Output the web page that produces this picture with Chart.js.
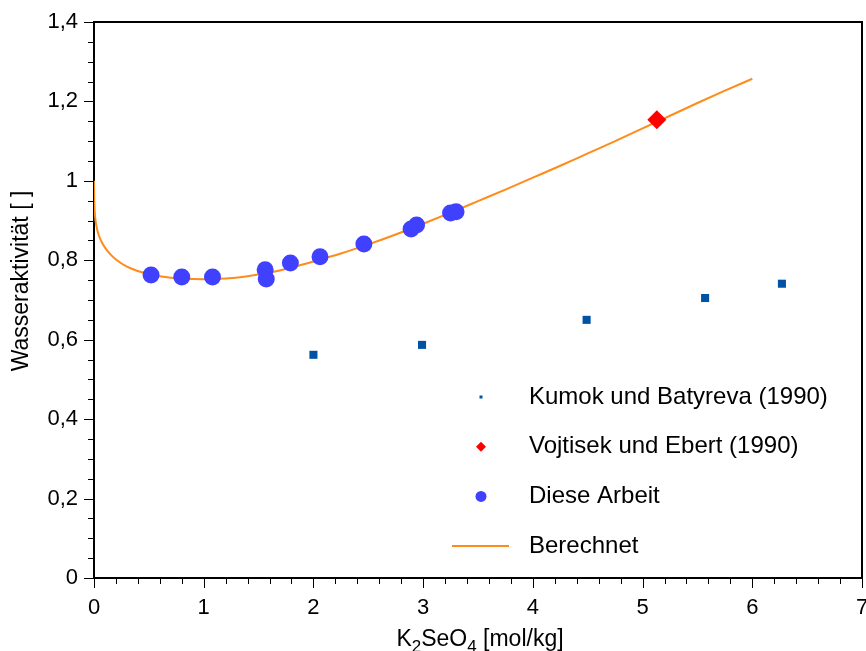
<!DOCTYPE html>
<html>
<head>
<meta charset="utf-8">
<script src="https://cdn.jsdelivr.net/npm/chart.js@4"></script>
<style>
  html, body { margin: 0; padding: 0; background: #fff; }
  #wrap { width: 866px; height: 651px; }
</style>
</head>
<body>
<div id="wrap"><canvas id="c" width="866" height="651"></canvas></div>
<script>
// Kumok und Batyreva (1990)
const kumokX = [2.00, 2.99, 4.49, 5.57, 6.27];
const kumokY = [0.562, 0.587, 0.650, 0.705, 0.741];

// Vojtisek und Ebert (1990)
const vojtX = [5.13];
const vojtY = [1.154];

// Diese Arbeit
const arbeitX = [0.52, 0.80, 1.08, 1.56, 1.57, 1.79, 2.06, 2.46, 2.89, 2.94, 3.25, 3.30];
const arbeitY = [0.763, 0.758, 0.758, 0.776, 0.753, 0.793, 0.809, 0.841, 0.879, 0.889, 0.919, 0.922];

// Berechnet
const calcX = [0, 0.002, 0.005, 0.01, 0.02, 0.04, 0.07, 0.1, 0.15, 0.2, 0.3, 0.4, 0.5, 0.6, 0.8,
               1.0, 1.2, 1.4, 1.6, 1.8, 2.0, 2.25, 2.5, 2.75, 3.0, 3.25, 3.5, 3.75, 4.0, 4.25,
               4.5, 4.75, 5.0, 5.25, 5.5, 5.75, 6.0];
const calcY = [1.000, 0.955, 0.930, 0.910, 0.889, 0.866, 0.846, 0.832, 0.815, 0.802, 0.784, 0.773, 0.765, 0.760, 0.754,
               0.752, 0.754, 0.760, 0.769, 0.782, 0.797, 0.817, 0.840, 0.865, 0.892, 0.920, 0.949, 0.978, 1.008, 1.038,
               1.069, 1.100, 1.132, 1.164, 1.196, 1.227, 1.257];

// Axis ranges and tick spacing
const xMin = 0, xMax = 7, xMajor = 1, xMinor = 0.2;
const yMin = 0, yMax = 1.4, yMajor = 0.2, yMinor = 0.05;

const legendItems = [
  { label: 'Kumok und Batyreva (1990)', kind: 'square' },
  { label: 'Vojtisek und Ebert (1990)', kind: 'diamond' },
  { label: 'Diese Arbeit', kind: 'circle' },
  { label: 'Berechnet', kind: 'line' }
];

const COL_KUMOK = '#0052A3';
const COL_VOJT = '#FF0000';
const COL_ARBEIT = '#4040FF';
const COL_CALC = '#FF8C1A';
const FONT = '"Liberation Sans", Arial, sans-serif';

const zip = (xs, ys) => xs.map((x, i) => ({ x: x, y: ys[i] }));

function fmt(v) {
  const r = Math.round(v * 10) / 10;
  if (Number.isInteger(r)) return String(r);
  return r.toFixed(1).replace('.', ',');
}

// Frame and tick marks go under the data; titles and legend on top
const decor = {
  id: 'decor',
  beforeDatasetsDraw(chart) {
    const ctx = chart.ctx;
    const a = chart.chartArea;
    const xs = chart.scales.x, ys = chart.scales.y;
    ctx.save();

    // tick marks (outside)
    ctx.strokeStyle = '#000';
    ctx.lineWidth = 1;
    const nx = Math.round((xMax - xMin) / xMinor);
    for (let i = 0; i <= nx; i++) {
      const v = xMin + i * xMinor;
      const major = Math.abs(v / xMajor - Math.round(v / xMajor)) < 1e-6;
      const px = Math.round(xs.getPixelForValue(v)) + 0.5;
      ctx.beginPath();
      ctx.moveTo(px, a.bottom);
      ctx.lineTo(px, a.bottom + (major ? 10 : 6));
      ctx.stroke();
    }
    const ny = Math.round((yMax - yMin) / yMinor);
    for (let i = 0; i <= ny; i++) {
      const v = yMin + i * yMinor;
      const major = Math.abs(v / yMajor - Math.round(v / yMajor)) < 1e-6;
      const py = Math.round(ys.getPixelForValue(v)) + 0.5;
      ctx.beginPath();
      ctx.moveTo(a.left, py);
      ctx.lineTo(a.left - (major ? 10 : 6), py);
      ctx.stroke();
    }

    // frame
    ctx.lineWidth = 2;
    ctx.strokeStyle = '#000';
    ctx.strokeRect(a.left, a.top, a.right - a.left, a.bottom - a.top);
    ctx.restore();
  },
  afterDraw(chart) {
    const ctx = chart.ctx;
    const a = chart.chartArea;
    ctx.save();

    // y title
    ctx.fillStyle = '#000';
    ctx.font = '23px ' + FONT;
    ctx.textAlign = 'center';
    ctx.textBaseline = 'middle';
    ctx.save();
    ctx.translate(22, 281);
    ctx.rotate(-Math.PI / 2);
    ctx.fillText('Wasseraktivität [ ]', 0, 0);
    ctx.restore();

    // x title with subscripts
    const parts = [
      { t: 'K', sub: false }, { t: '2', sub: true }, { t: 'SeO', sub: false },
      { t: '4', sub: true }, { t: ' [mol/kg]', sub: false }
    ];
    const mainFont = '23px ' + FONT, subFont = '17px ' + FONT;
    let total = 0;
    parts.forEach(p => { ctx.font = p.sub ? subFont : mainFont; p.w = ctx.measureText(p.t).width; total += p.w; });
    let cx = (a.left + a.right) / 2 + 2 - total / 2;
    const base = 646;
    ctx.textAlign = 'left';
    ctx.textBaseline = 'alphabetic';
    parts.forEach(p => {
      ctx.font = p.sub ? subFont : mainFont;
      ctx.fillText(p.t, cx, base + (p.sub ? 6 : 0));
      cx += p.w;
    });

    // legend
    const lx = 481, tx = 529, ly0 = 397, dy = 49.7;
    legendItems.forEach((it, i) => {
      const y = ly0 + i * dy;
      if (it.kind === 'square') {
        ctx.fillStyle = COL_KUMOK;
        ctx.fillRect(lx - 1.5, y - 1.5, 3, 3);
      } else if (it.kind === 'diamond') {
        ctx.fillStyle = COL_VOJT;
        ctx.beginPath();
        ctx.moveTo(lx, y - 5); ctx.lineTo(lx + 5, y); ctx.lineTo(lx, y + 5); ctx.lineTo(lx - 5, y);
        ctx.closePath(); ctx.fill();
      } else if (it.kind === 'circle') {
        ctx.fillStyle = COL_ARBEIT;
        ctx.beginPath(); ctx.arc(lx, y, 5.5, 0, Math.PI * 2); ctx.fill();
      } else {
        ctx.strokeStyle = COL_CALC; ctx.lineWidth = 2;
        ctx.beginPath(); ctx.moveTo(452, y); ctx.lineTo(509, y); ctx.stroke();
      }
      ctx.fillStyle = '#000';
      ctx.font = '24px ' + FONT;
      ctx.textAlign = 'left';
      ctx.textBaseline = 'middle';
      ctx.fillText(it.label, tx, y);
    });

    ctx.restore();
  }
};

new Chart(document.getElementById('c'), {
  type: 'scatter',
  data: {
    datasets: [
      {
        label: 'Diese Arbeit',
        data: zip(arbeitX, arbeitY),
        pointStyle: 'circle', pointRadius: 8.5, pointHoverRadius: 8.5,
        backgroundColor: COL_ARBEIT, borderWidth: 0, order: 1
      },
      {
        label: 'Vojtisek und Ebert (1990)',
        data: zip(vojtX, vojtY),
        pointStyle: 'rectRot', pointRadius: 9.5, pointHoverRadius: 9.5,
        backgroundColor: COL_VOJT, borderWidth: 0, order: 2
      },
      {
        label: 'Kumok und Batyreva (1990)',
        data: zip(kumokX, kumokY),
        pointStyle: 'rect', pointRadius: 5.7, pointHoverRadius: 5.7,
        backgroundColor: COL_KUMOK, borderWidth: 0, order: 3
      },
      {
        label: 'Berechnet',
        data: zip(calcX, calcY),
        showLine: true, pointRadius: 0, pointHoverRadius: 0,
        borderColor: COL_CALC, borderWidth: 2, fill: false,
        cubicInterpolationMode: 'monotone', order: 10
      }
    ]
  },
  options: {
    responsive: false,
    animation: false,
    events: [],
    layout: { autoPadding: false, padding: { top: 22, right: 4, bottom: 0, left: 0 } },
    plugins: { legend: { display: false }, tooltip: { enabled: false }, title: { display: false } },
    scales: {
      x: {
        type: 'linear', min: xMin, max: xMax,
        grid: { display: false, drawTicks: false },
        border: { display: false },
        ticks: {
          stepSize: xMajor, padding: 17, color: '#000',
          font: { family: FONT, size: 22 },
          callback: v => fmt(v), maxRotation: 0, autoSkip: false
        },
        afterFit: s => { s.height = 73; s.paddingLeft = 0; s.paddingRight = 0; s.paddingTop = 0; s.paddingBottom = 0; }
      },
      y: {
        type: 'linear', min: yMin, max: yMax,
        grid: { display: false, drawTicks: false },
        border: { display: false },
        ticks: {
          stepSize: yMajor, padding: 16, color: '#000',
          font: { family: FONT, size: 22 },
          callback: v => fmt(v), autoSkip: false
        },
        afterFit: s => { s.width = 94; s.paddingLeft = 0; s.paddingRight = 0; s.paddingTop = 0; s.paddingBottom = 0; }
      }
    }
  },
  plugins: [decor]
});
</script>
</body>
</html>
